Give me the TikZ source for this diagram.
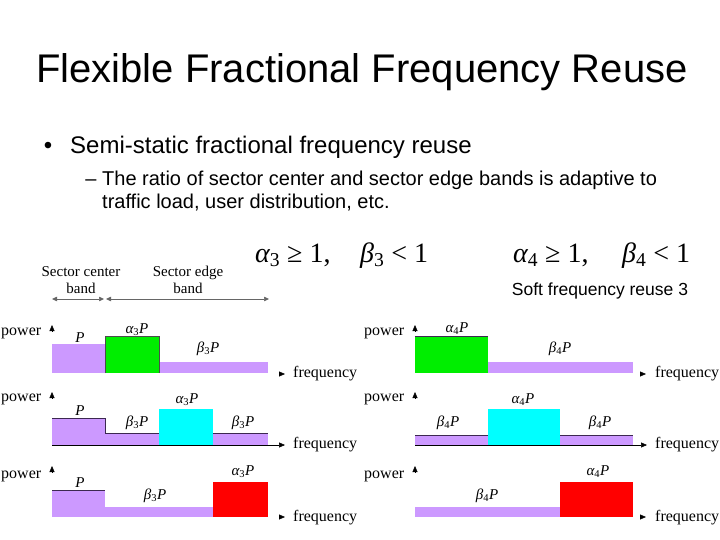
\documentclass[tikz,border=0pt]{standalone}
\usepackage{fontspec}
\setmainfont{Liberation Serif}
\newfontfamily\arialfont{Liberation Sans}
\usetikzlibrary{arrows.meta}
\definecolor{lav}{RGB}{204,153,255}
\definecolor{grn}{RGB}{0,238,0}
\definecolor{cyn}{RGB}{0,255,255}
\definecolor{rd}{RGB}{255,0,0}
\definecolor{edgeline}{RGB}{60,40,80}
\newcommand{\alphaP}[1]{{\itshape α}\textsubscript{#1}{\itshape P}}
\newcommand{\betaP}[1]{{\itshape β}\textsubscript{#1}{\itshape P}}
\begin{document}
\begin{tikzpicture}[x=1pt,y=-1pt,
  lavbar/.style={fill=lav},
  grnbar/.style={fill=grn},
  cynbar/.style={fill=cyn},
  rdbar/.style={fill=rd},
  topline/.style={draw=edgeline,line width=0.6pt},
  smalltip/.style={-{Triangle[length=6pt,width=5pt]}},
  sectarrow/.style={draw=black!60,line width=0.5pt,{Triangle[length=5pt,width=4.5pt]}-{Triangle[length=5pt,width=4.5pt]}},
  axisline/.style={draw=black,line width=0.6pt,-{Triangle[length=6pt,width=5pt]}},
  lbl/.style={font=\fontsize{15}{17}\selectfont,inner sep=0pt},
  axlbl/.style={font=\fontsize{16}{18}\selectfont,inner sep=0pt,anchor=base west},
  mlbl/.style={font=\fontsize{15}{17}\selectfont,inner sep=0pt,anchor=base},
  formula/.style={font=\fontsize{28}{30}\selectfont,inner sep=0pt,anchor=base west}
]
\useasboundingbox (0,0) rectangle (720,540);
\fill[white] (0,0) rectangle (720,540);

% Title and bullets
\node[font=\arialfont\fontsize{40}{44}\selectfont,inner sep=0pt,anchor=base] (title) at (362,83) {Flexible Fractional Frequency Reuse};
\node[font=\arialfont\fontsize{24}{28}\selectfont,inner sep=0pt,anchor=base] (bul) at (48,154) {•};
\node[font=\arialfont\fontsize{24}{28}\selectfont,inner sep=0pt,anchor=base west] (b1) at (70,154) {Semi-static fractional frequency reuse};
\node[font=\arialfont\fontsize{20}{24}\selectfont,inner sep=0pt,anchor=base] (dash) at (91,186) {–};
\node[font=\arialfont\fontsize{20}{24}\selectfont,inner sep=0pt,anchor=base west] (s1) at (102,186) {The ratio of sector center and sector edge bands is adaptive to};
\node[font=\arialfont\fontsize{20}{24}\selectfont,inner sep=0pt,anchor=base west] (s2) at (102,209) {traffic load, user distribution, etc.};

% Formulas
\node[formula] (f1) at (255,262) {{\itshape α}\textsubscript{3} ≥ 1,};
\node[formula] (f2) at (360,262) {{\itshape β}\textsubscript{3} < 1};
\node[formula] (f3) at (513,262) {{\itshape α}\textsubscript{4} ≥ 1,};
\node[formula] (f4) at (622,262) {{\itshape β}\textsubscript{4} < 1};
\node[font=\arialfont\fontsize{17.5}{20}\selectfont,inner sep=0pt] (sfr) at (600,291) {Soft frequency reuse 3};

% Sector band labels
\node[lbl,align=center] (scb) at (81,280) {Sector center\\band};
\node[lbl,align=center] (seb) at (188,280) {Sector edge\\band};
\coordinate (sa1) at (52,299);
\coordinate (sa2) at (104,299);
\coordinate (sa3) at (106,299);
\coordinate (sa4) at (269,299);
\draw[sectarrow] (sa1) -- (sa2);
\draw[sectarrow] (sa3) -- (sa4);

% ---------- Left column ----------
% Row 1
\fill[lavbar] (52,344) rectangle (105,373);
\fill[lavbar] (159,362) rectangle (268,373);
\filldraw[grnbar,draw=black!70,line width=0.6pt] (105,373) -- (105,336) -- (159,336) -- (159,373);
\node[axlbl] (pw1) at (1,335) {power};
\draw[smalltip] (52,331) -- (52,325);
\draw[smalltip] (279,374) -- (285,374);
\node[axlbl] (fq1) at (293,377) {frequency};
\node[mlbl] (l1a) at (80,342) {{\itshape P}};
\node[mlbl] (l1b) at (137,333) {\alphaP{3}};
\node[mlbl] (l1c) at (208,352) {\betaP{3}};

% Row 2
\fill[lavbar] (52,418) rectangle (105,445);
\fill[lavbar] (105,433) rectangle (159,445);
\fill[cynbar] (159,409) rectangle (213,445);
\fill[lavbar] (213,433) rectangle (268,445);
\draw[topline] (52,418) -- (105,418) -- (105,433) -- (159,433);
\draw[topline] (213,433) -- (268,433);
\draw[axisline] (52,445) -- (285,445);
\node[axlbl] (pw2) at (1,401) {power};
\draw[smalltip] (52,398) -- (52,392);
\node[axlbl] (fq2) at (293,448) {frequency};
\node[mlbl] (l2a) at (80,415) {{\itshape P}};
\node[mlbl] (l2b) at (137,426) {\betaP{3}};
\node[mlbl] (l2c) at (187,403) {\alphaP{3}};
\node[mlbl] (l2d) at (243,426) {\betaP{3}};

% Row 3
\fill[lavbar] (52,490) rectangle (105,517);
\fill[lavbar] (105,507) rectangle (213,517);
\fill[rdbar] (213,482) rectangle (268,517);
\draw[topline] (52,490) -- (105,490);
\node[axlbl] (pw3) at (1,478) {power};
\draw[smalltip] (52,472) -- (52,466);
\draw[smalltip] (279,517) -- (285,517);
\node[axlbl] (fq3) at (293,521) {frequency};
\node[mlbl] (l3a) at (80,487) {{\itshape P}};
\node[mlbl] (l3b) at (155,499) {\betaP{3}};
\node[mlbl] (l3c) at (243,475) {\alphaP{3}};

% ---------- Right column ----------
% Row 1
\fill[grnbar] (415,336) rectangle (488,373);
\fill[lavbar] (488,362) rectangle (633,373);
\draw[topline] (415,336) -- (488,336);
\node[axlbl] (pw4) at (364,335) {power};
\draw[smalltip] (415,331) -- (415,325);
\draw[smalltip] (640,374) -- (646,374);
\node[axlbl] (fq4) at (655,377) {frequency};
\node[mlbl] (r1a) at (457,332) {\alphaP{4}};
\node[mlbl] (r1b) at (560,352) {\betaP{4}};

% Row 2
\fill[lavbar] (415,435) rectangle (488,445);
\fill[cynbar] (488,409) rectangle (560,445);
\fill[lavbar] (560,435) rectangle (633,445);
\draw[topline] (415,435) -- (488,435);
\draw[topline] (560,435) -- (633,435);
\draw[axisline] (415,445) -- (647,445);
\node[axlbl] (pw5) at (364,401) {power};
\draw[smalltip] (415,398) -- (415,392);
\node[axlbl] (fq5) at (655,448) {frequency};
\node[mlbl] (r2a) at (448,426) {\betaP{4}};
\node[mlbl] (r2b) at (523,403) {\alphaP{4}};
\node[mlbl] (r2c) at (600,426) {\betaP{4}};

% Row 3
\fill[lavbar] (415,507) rectangle (560,517);
\fill[rdbar] (560,482) rectangle (633,517);
\node[axlbl] (pw6) at (364,478) {power};
\draw[smalltip] (415,472) -- (415,466);
\draw[smalltip] (640,517) -- (646,517);
\node[axlbl] (fq6) at (655,521) {frequency};
\node[mlbl] (r3a) at (487,499) {\betaP{4}};
\node[mlbl] (r3b) at (598,475) {\alphaP{4}};
\end{tikzpicture}
\end{document}
